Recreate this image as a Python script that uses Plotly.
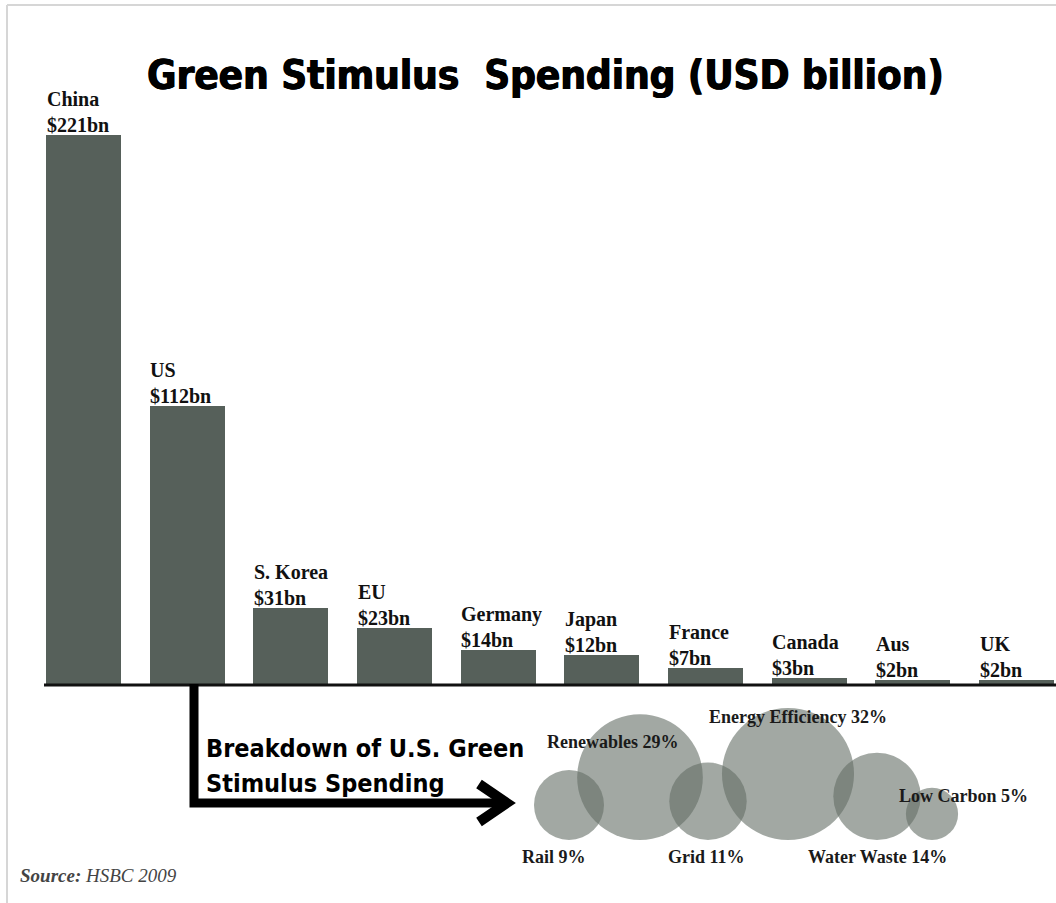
import plotly.graph_objects as go
import math

# ---------------- data ----------------
countries = ["China", "US", "S. Korea", "EU", "Germany", "Japan", "France", "Canada", "Aus", "UK"]
spending = [221, 112, 31, 23, 14, 12, 7, 3, 2, 2]

us_sectors = ["Rail", "Renewables", "Grid", "Energy Efficiency", "Water Waste", "Low Carbon"]
us_shares = [9, 29, 11, 32, 14, 5]

title_text = "Green Stimulus  Spending (USD billion)"
breakdown_lines = ["Breakdown of U.S. Green", "Stimulus Spending"]

# ---------------- layout helpers ----------------
W, H = 1056, 903
BAR_COLOR = "#56605a"
BUBBLE_COLOR = "rgba(100,110,102,0.6)"
SERIF = "Liberation Serif"
NARROW = "DejaVu Sans Condensed"

fig = go.Figure()

fig.add_trace(go.Bar(
    x=countries, y=spending, marker_color=BAR_COLOR, marker_line_width=0,
    width=0.723, hoverinfo="skip", showlegend=False,
))

# bubbles placed in a pixel-space overlay axis
bubble_cx = [569, 640, 708, 788, 877, 932]
bubble_bottom = 840
k = 11.67  # px radius per sqrt(percent)
radii = [k * math.sqrt(p) for p in us_shares]
fig.add_trace(go.Scatter(
    x=bubble_cx, y=[bubble_bottom - r for r in radii],
    mode="markers", xaxis="x2", yaxis="y2",
    marker=dict(size=[2 * r for r in radii], sizemode="diameter", opacity=1,
                color=BUBBLE_COLOR, line=dict(width=0)),
    hoverinfo="skip", showlegend=False,
))

annotations = []
# bar labels
for c, v in zip(countries, spending):
    annotations.append(dict(
        x=c, y=v, xref="x", yref="y", xanchor="left", yanchor="bottom",
        xshift=-39, yshift=-3, align="left", showarrow=False,
        text=f"{c}<br>${v}bn",
        font=dict(family=SERIF, size=20, color="#111", weight="bold"),
    ))

# title
annotations.append(dict(
    x=545 / W, y=1 - 75 / H, xref="paper", yref="paper", xanchor="center", yanchor="middle",
    showarrow=False, text=title_text,
    font=dict(family=NARROW, size=40, color="#000", weight="bold",
              shadow="0.6px 0 0 #000, -0.6px 0 0 #000"),
))

# breakdown text
for i, line in enumerate(breakdown_lines):
    annotations.append(dict(
        x=204, y=748 + 35 * i, xref="x2", yref="y2", xanchor="left", yanchor="middle",
        showarrow=False, text=line,
        font=dict(family=NARROW, size=25, color="#000", weight="bold"),
    ))

# bubble labels
label_pos = {
    "Rail": (554, 857),
    "Renewables": (613, 742),
    "Grid": (706, 857),
    "Energy Efficiency": (798, 717),
    "Water Waste": (877, 857),
    "Low Carbon": (963, 796),
}
for s, p in zip(us_sectors, us_shares):
    lx, ly = label_pos[s]
    annotations.append(dict(
        x=lx, y=ly, xref="x2", yref="y2", xanchor="center", yanchor="middle",
        showarrow=False, text=f"{s} {p}%",
        font=dict(family=SERIF, size=18, color="#1a1a1a", weight="bold"),
    ))

# source
annotations.append(dict(
    x=18, y=875, xref="x2", yref="y2", xanchor="left", yanchor="middle",
    showarrow=False, text="<b><i>Source:</i></b> <i>HSBC 2009</i>",
    font=dict(family=SERIF, size=19, color="#444"),
))

shapes = [
    # frame
    dict(type="line", xref="x2", yref="y2", x0=7, x1=W, y0=5, y1=5,
         line=dict(color="#d6d6d6", width=2)),
    dict(type="line", xref="x2", yref="y2", x0=7, x1=7, y0=5, y1=H,
         line=dict(color="#d6d6d6", width=2)),
    # baseline
    dict(type="line", xref="x2", yref="y", x0=44, x1=W, y0=0, y1=0,
         line=dict(color="#111", width=3)),
    # arrow
    dict(type="path", xref="x2", yref="y2", path="M 194 684 L 194 803 L 505 803",
         line=dict(color="#000", width=9)),
    dict(type="path", xref="x2", yref="y2", path="M 479 784 L 507 803 L 479 822",
         line=dict(color="#000", width=10)),
]

# axes: bar axes mapped so that baseline sits at 685px and 1bn = 2.49px
px_per_bn = 2.49
baseline_px = 685
pitch = 103.67
first_center = 83.5

fig.update_layout(
    width=W, height=H, autosize=False,
    margin=dict(l=0, r=0, t=0, b=0, pad=0),
    paper_bgcolor="white", plot_bgcolor="white",
    bargap=0,
    xaxis=dict(range=[-first_center / pitch, (W - first_center) / pitch], domain=[0, 1],
               visible=False, fixedrange=True),
    yaxis=dict(range=[-(H - baseline_px) / px_per_bn, baseline_px / px_per_bn], domain=[0, 1],
               visible=False, fixedrange=True),
    xaxis2=dict(range=[0, W], domain=[0, 1], overlaying="x", anchor="y2", visible=False),
    yaxis2=dict(range=[H, 0], domain=[0, 1], overlaying="y", anchor="x2", visible=False),
    annotations=annotations,
    shapes=shapes,
)

fig.write_html("out.html", config={"displayModeBar": False},
               post_script="document.body.style.margin='0';document.body.style.overflow='hidden';")
